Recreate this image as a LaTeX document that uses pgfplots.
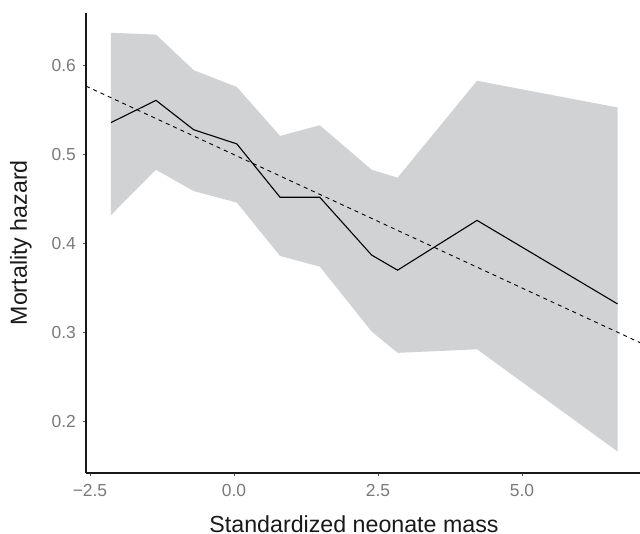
\documentclass[border=0pt]{standalone}
\usepackage{fontspec}
\setmainfont{Liberation Sans}
\usepackage{pgfplots}
\pgfplotsset{compat=1.18}
\definecolor{band}{RGB}{209,210,212}
\definecolor{ticklab}{RGB}{122,122,122}
\definecolor{tickcol}{RGB}{80,80,80}
\begin{document}
\begin{tikzpicture}
\useasboundingbox (-86bp,-61.3bp) rectangle (554bp,472.7bp);
\begin{axis}[
  at={(0,0)}, anchor=south west,
  scale only axis,
  width=554bp, height=460bp,
  xmin=-2.569, xmax=7.049,
  ymin=0.1422, ymax=0.6596,
  axis x line=bottom, axis y line=left,
  axis line style={-, line width=1.6bp, black!90},
  xtick={-2.5,0,2.5,5}, xticklabels={−2.5,0.0,2.5,5.0},
  ytick={0.2,0.3,0.4,0.5,0.6}, yticklabels={0.2,0.3,0.4,0.5,0.6},
  tick align=outside,
  major tick length=3bp,
  tick style={color=tickcol, line width=0.9bp},
  tick label style={font=\fontsize{17.5}{20}\selectfont, text=ticklab, inner sep=0pt},
  xticklabel style={anchor=north, yshift=-8bp},
  yticklabel style={anchor=east, xshift=-7bp},
  xlabel={Standardized neonate mass},
  ylabel={Mortality hazard},
  label style={font=\fontsize{23.3}{26}\selectfont, text=black!90, inner sep=0pt},
  xlabel style={at={(axis description cs:0.4838,-0.129)}, anchor=base},
  ylabel style={at={(axis description cs:-0.0975,0.5)}, anchor=south},
]
\addplot[fill=band, draw=none] coordinates {
  (-2.135,0.637) (-1.354,0.635) (-0.70,0.595) (0.05,0.576) (0.80,0.521)
  (1.49,0.533) (2.39,0.483) (2.84,0.474) (4.22,0.583) (6.66,0.553)
  (6.66,0.166) (4.22,0.281) (2.84,0.277) (2.39,0.301) (1.49,0.374)
  (0.80,0.386) (0.05,0.446) (-0.70,0.459) (-1.354,0.483) (-2.135,0.432)
} -- cycle;
\addplot[black, line width=1.1bp] coordinates {
  (-2.135,0.536) (-1.354,0.561) (-0.70,0.528) (0.05,0.512) (0.80,0.452)
  (1.49,0.452) (2.39,0.387) (2.84,0.370) (4.22,0.426) (6.66,0.332)
};
\addplot[black, line width=0.9bp, dash pattern=on 4bp off 4bp] coordinates {
  (-2.569,0.577) (7.049,0.2885)
};
\end{axis}
\end{tikzpicture}
\end{document}
